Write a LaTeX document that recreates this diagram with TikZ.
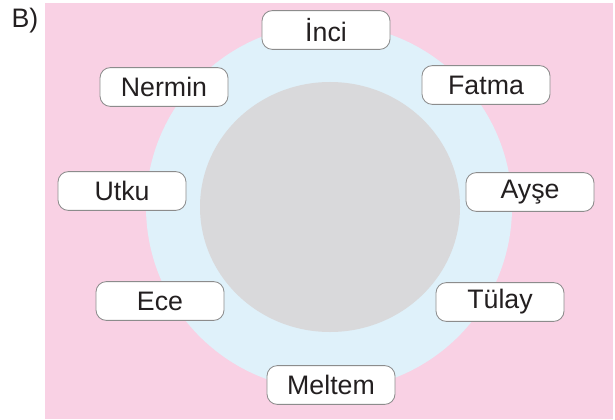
\documentclass[tikz,border=0pt]{standalone}
\usepackage{fontspec}
\setmainfont{Liberation Sans}
\usepackage{tikz}
\usetikzlibrary{positioning}

\definecolor{bgpink}{HTML}{F9D1E4}
\definecolor{ringblue}{HTML}{DFF1FA}
\definecolor{tablegray}{HTML}{D9D9DB}
\definecolor{boxline}{HTML}{8C8C8C}
\definecolor{textdark}{HTML}{231F20}

\tikzset{
    namebox/.style={draw=boxline, line width=0.6pt, fill=white, rounded corners=0.26cm,
        minimum width=3.2cm, minimum height=0.97cm, inner sep=0pt,
        font=\fontsize{19pt}{21pt}\selectfont, text=textdark}
}

\begin{document}
\begin{tikzpicture}[x=0.025cm, y=-0.025cm]

    \useasboundingbox (0,0) rectangle (615,419);

    % Background
    \fill[bgpink] (45,3) rectangle (613,419);
    \node[font=\fontsize{19pt}{21pt}\selectfont, text=textdark] (label) at (25,21) {B)};

    % Room and table
    \fill[ringblue] (329,207) circle (183);
    \fill[tablegray] (330,207) ellipse (130 and 125);

    % Seats
    \node[namebox] (inci) at (326,30) {İnci};
    \node[namebox] (fatma) at (486,85) {Fatma};
    \node[namebox] (ayse) at (530,192) {Ayşe};
    \node[namebox] (tulay) at (500,302) {Tülay};
    \node[namebox] (meltem) at (331,385) {Meltem};
    \node[namebox] (ece) at (160,301) {Ece};
    \node[namebox] (utku) at (122,191) {Utku};
    \node[namebox] (nermin) at (164,87) {Nermin};

\end{tikzpicture}
\end{document}
